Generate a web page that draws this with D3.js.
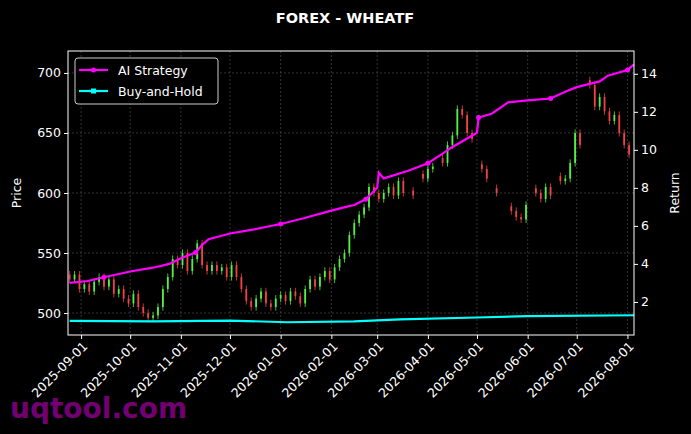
<!DOCTYPE html>
<html><head><meta charset="utf-8">
<script src="https://cdn.jsdelivr.net/npm/d3@7"></script>
<style>body{margin:0;background:#000}</style></head>
<body><svg id="c" width="691" height="434"></svg>
<script>
const startDate = "2025-08-25";
const stepDays = 3;
const closes = [528,532,520,524,518,526,530,522,528,516,
520,512,508,516,505,500,496,498,505,520,
530,545,540,550,535,545,558,540,535,540,
535,538,530,540,530,520,510,505,512,518,
508,505,512,515,510,518,514,508,520,528,
522,530,535,528,538,545,550,565,575,582,
588,605,600,595,600,605,598,610,600,null,
598,null,612,620,622,null,625,640,648,670,
665,650,645,null,620,612,null,600,null,null,
585,580,578,590,null,600,595,605,598,null,
610,612,625,650,640,null,690,672,680,668,
660,665,650,640,632];
const stratDates = ["2025-08-25","2025-09-05","2025-09-15","2025-10-01","2025-10-15","2025-10-25","2025-11-01","2025-11-10","2025-11-14","2025-11-18","2025-12-01","2025-12-15","2026-01-01","2026-01-15","2026-02-01","2026-02-10","2026-02-15","2026-02-22","2026-03-01","2026-03-02","2026-03-05","2026-03-20","2026-04-01","2026-04-10","2026-04-15","2026-04-25","2026-05-01","2026-05-02","2026-05-10","2026-05-15","2026-05-20","2026-06-01","2026-06-15","2026-06-25","2026-07-01","2026-07-15","2026-07-20","2026-08-01","2026-08-05"];
const stratVals = [3.0,3.1,3.3,3.6,3.8,4.0,4.3,4.6,5.0,5.3,5.6,5.8,6.1,6.4,6.8,7.0,7.1,7.4,8.0,8.8,8.5,8.9,9.3,9.8,10.1,10.6,10.9,11.7,11.9,12.2,12.5,12.6,12.7,13.1,13.3,13.6,13.9,14.2,14.5];
const bhDates = ["2025-08-25","2025-10-15","2025-12-01","2026-01-05","2026-02-15","2026-03-15","2026-05-01","2026-06-01","2026-08-05"];
const bhVals = [1.0,0.98,1.02,0.93,0.98,1.08,1.18,1.25,1.3];
const xTicks = ["2025-09-01","2025-10-01","2025-11-01","2025-12-01","2026-01-01","2026-02-01","2026-03-01","2026-04-01","2026-05-01","2026-06-01","2026-07-01","2026-08-01"];
const priceTicks = [500,550,600,650,700];
const retTicks = [2,4,6,8,10,12,14];

const P = d3.timeParse("%Y-%m-%d");
const svg = d3.select("#c");
const L=68,R=634,T=51,B=335;
const x = d3.scaleTime().domain([P("2025-08-24"),P("2026-08-05")]).range([L,R]);
const y = d3.scaleLinear().domain([481.7,718.3]).range([B,T]);
const y2 = d3.scaleLinear().domain([0.26,15.2]).range([B,T]);

svg.append("rect").attr("width",691).attr("height",434).attr("fill","#000");
const g = svg.append("g");
xTicks.forEach(t=>g.append("line").attr("x1",x(P(t))).attr("x2",x(P(t))).attr("y1",T).attr("y2",B).attr("stroke","#555").attr("stroke-width",0.6).attr("stroke-dasharray","2,2"));
priceTicks.forEach(t=>g.append("line").attr("x1",L).attr("x2",R).attr("y1",y(t)).attr("y2",y(t)).attr("stroke","#555").attr("stroke-width",0.6).attr("stroke-dasharray","2,2"));

const s0 = P(startDate);
closes.forEach((c,i)=>{
  if(c==null) return;
  const prev = i>0 && closes[i-1]!=null ? closes[i-1] : c+4;
  const d = d3.timeDay.offset(s0,i*stepDays);
  const up = c>=prev;
  const col = up?"#55ee44":"#ee4444";
  const hi=Math.max(c,prev)+3, lo=Math.min(c,prev)-3;
  const cx=x(d);
  g.append("line").attr("x1",cx).attr("x2",cx).attr("y1",y(hi)).attr("y2",y(lo)).attr("stroke",col).attr("stroke-width",0.8);
  g.append("rect").attr("x",cx-0.9).attr("width",1.8).attr("y",y(Math.max(c,prev))).attr("height",Math.max(1,Math.abs(y(c)-y(prev)))).attr("fill",col);
});

function series(dates,vals,col,shape,every){
  const pts = dates.map((d,i)=>[x(P(d)),y2(vals[i])]);
  g.append("path").attr("d",d3.line()(pts)).attr("fill","none").attr("stroke",col).attr("stroke-width",2.2);
  pts.forEach((p,i)=>{ if(i%every==2){
    if(shape=="c") g.append("circle").attr("cx",p[0]).attr("cy",p[1]).attr("r",2.5).attr("fill",col);
    else g.append("rect").attr("x",p[0]-2.5).attr("y",p[1]-2.5).attr("width",5).attr("height",5).attr("fill",col);
  }});
}
series(stratDates,stratVals,"#ff00ff","c",5);
series(bhDates,bhVals,"#00ffff","s",2);

g.append("rect").attr("x",L).attr("y",T).attr("width",R-L).attr("height",B-T).attr("fill","none").attr("stroke","#fff").attr("stroke-width",1);

const ax = svg.append("g").attr("transform",`translate(0,${B})`).call(d3.axisBottom(x).tickValues(xTicks.map(P)).tickFormat(d3.timeFormat("%Y-%m-%d")).tickSize(4));
ax.selectAll("text").attr("transform","rotate(-45)").attr("text-anchor","end").attr("dx","-0.3em").attr("dy","0.5em");
const ay = svg.append("g").attr("transform",`translate(${L},0)`).call(d3.axisLeft(y).tickValues(priceTicks).tickSize(4));
const ay2 = svg.append("g").attr("transform",`translate(${R},0)`).call(d3.axisRight(y2).tickValues(retTicks).tickSize(4));
[ax,ay,ay2].forEach(a=>{a.select(".domain").remove();a.selectAll("line").attr("stroke","#fff");a.selectAll("text").attr("fill","#fff").attr("font-size",12.5).attr("font-family","DejaVu Sans");});

svg.append("text").attr("x",345).attr("y",23).attr("text-anchor","middle").attr("fill","#fff").attr("font-family","DejaVu Sans").attr("font-weight","bold").attr("font-size",14.5).text("FOREX - WHEATF");
svg.append("text").attr("transform","translate(21,193) rotate(-90)").attr("text-anchor","middle").attr("fill","#fff").attr("font-family","DejaVu Sans").attr("font-size",12.5).text("Price");
svg.append("text").attr("transform","translate(679,193) rotate(-90)").attr("text-anchor","middle").attr("fill","#fff").attr("font-family","DejaVu Sans").attr("font-size",12.5).text("Return");

const lg = svg.append("g");
lg.append("rect").attr("x",75).attr("y",58).attr("width",143).attr("height",46).attr("rx",3).attr("fill","#000").attr("stroke","#ccc");
[["AI Strategy","#ff00ff","c",70],["Buy-and-Hold","#00ffff","s",91]].forEach(([t,c,s,yy])=>{
  lg.append("line").attr("x1",79).attr("x2",108).attr("y1",yy).attr("y2",yy).attr("stroke",c).attr("stroke-width",2.2);
  if(s=="c") lg.append("circle").attr("cx",93.5).attr("cy",yy).attr("r",2.5).attr("fill",c);
  else lg.append("rect").attr("x",91).attr("y",yy-2.5).attr("width",5).attr("height",5).attr("fill",c);
  lg.append("text").attr("x",118).attr("y",yy+4.5).attr("fill","#fff").attr("font-family","DejaVu Sans").attr("font-size",12.5).text(t);
});
svg.append("text").attr("x",10).attr("y",418).attr("fill","#800080").attr("font-family","DejaVu Sans").attr("font-weight","bold").attr("font-size",28).attr("opacity",0.9).text("uqtool.com");
</script></body></html>
